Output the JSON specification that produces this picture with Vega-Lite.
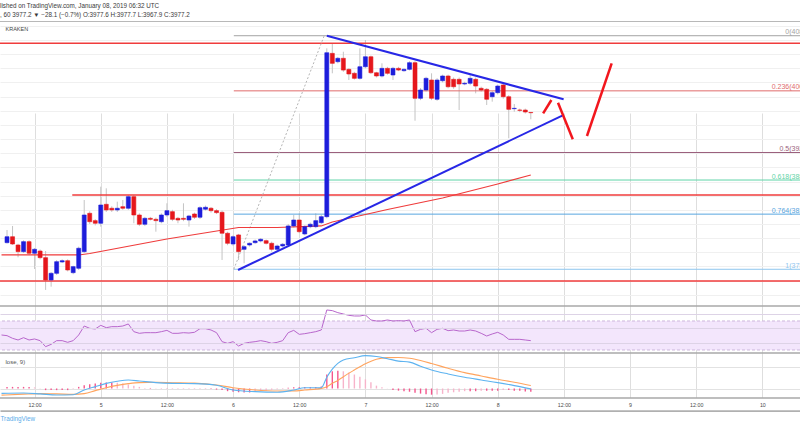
{
"$schema":"https://vega.github.io/schema/vega-lite/v6.json",
"width":800,"height":377,
"autosize":{"type":"none"},
"padding":{"left":0,"right":0,"top":21,"bottom":32},
"background":"white",
"config":{"view":{"stroke":null},"font":"Liberation Sans"},
"title":{"text":"lished on TradingView.com, January 08, 2019 06:32 UTC","subtitle":", 60  3977.2 ▼ −28.1 (−0.7%)  O:3977.6  H:3977.7  L:3967.9  C:3977.2","anchor":"start","frame":"group","fontSize":6.3,"subtitleFontSize":6.3,"fontWeight":"normal","color":"#3a3a3a","subtitleColor":"#3a3a3a","offset":2.5,"subtitlePadding":3,"font":"Liberation Sans","subtitleFont":"Liberation Sans"},
"resolve":{"scale":{"y":"independent","color":"independent"}},
"datasets":{
"candles":[
{"t":"2019-01-04T07:00:00Z","o":3793.6,"h":3811.5,"l":3792.4,"c":3802.0},
{"t":"2019-01-04T08:00:00Z","o":3802.0,"h":3817.2,"l":3790.3,"c":3791.7},
{"t":"2019-01-04T09:00:00Z","o":3790.3,"h":3792.0,"l":3772.9,"c":3780.9},
{"t":"2019-01-04T10:00:00Z","o":3780.9,"h":3797.0,"l":3779.0,"c":3795.0},
{"t":"2019-01-04T11:00:00Z","o":3795.0,"h":3797.0,"l":3776.0,"c":3778.6},
{"t":"2019-01-04T12:00:00Z","o":3778.6,"h":3786.0,"l":3756.4,"c":3784.2},
{"t":"2019-01-04T13:00:00Z","o":3781.8,"h":3784.0,"l":3770.0,"c":3772.4},
{"t":"2019-01-04T14:00:00Z","o":3772.4,"h":3781.8,"l":3726.8,"c":3740.9},
{"t":"2019-01-04T15:00:00Z","o":3740.9,"h":3752.0,"l":3731.4,"c":3750.3},
{"t":"2019-01-04T16:00:00Z","o":3750.3,"h":3769.0,"l":3748.0,"c":3766.7},
{"t":"2019-01-04T17:00:00Z","o":3766.3,"h":3770.0,"l":3765.0,"c":3768.1},
{"t":"2019-01-04T18:00:00Z","o":3768.1,"h":3770.0,"l":3753.0,"c":3755.0},
{"t":"2019-01-04T19:00:00Z","o":3751.2,"h":3761.0,"l":3749.0,"c":3759.7},
{"t":"2019-01-04T20:00:00Z","o":3757.4,"h":3788.0,"l":3755.0,"c":3785.7},
{"t":"2019-01-04T21:00:00Z","o":3780.9,"h":3853.9,"l":3779.0,"c":3832.7},
{"t":"2019-01-04T22:00:00Z","o":3835.1,"h":3838.0,"l":3820.0,"c":3823.2},
{"t":"2019-01-04T23:00:00Z","o":3824.7,"h":3827.0,"l":3818.0,"c":3821.0},
{"t":"2019-01-05T00:00:00Z","o":3821.0,"h":3872.7,"l":3816.2,"c":3846.8},
{"t":"2019-01-05T01:00:00Z","o":3847.8,"h":3870.4,"l":3837.0,"c":3839.8},
{"t":"2019-01-05T02:00:00Z","o":3842.2,"h":3845.0,"l":3837.0,"c":3839.8},
{"t":"2019-01-05T03:00:00Z","o":3839.8,"h":3851.5,"l":3837.0,"c":3842.2},
{"t":"2019-01-05T04:00:00Z","o":3844.4,"h":3853.9,"l":3840.0,"c":3842.2},
{"t":"2019-01-05T05:00:00Z","o":3842.2,"h":3861.0,"l":3840.0,"c":3858.6},
{"t":"2019-01-05T06:00:00Z","o":3858.6,"h":3861.0,"l":3821.0,"c":3832.7},
{"t":"2019-01-05T07:00:00Z","o":3832.7,"h":3835.0,"l":3817.0,"c":3819.6},
{"t":"2019-01-05T08:00:00Z","o":3819.6,"h":3830.0,"l":3817.0,"c":3828.0},
{"t":"2019-01-05T09:00:00Z","o":3828.0,"h":3830.0,"l":3825.0,"c":3826.6},
{"t":"2019-01-05T10:00:00Z","o":3826.6,"h":3829.0,"l":3809.1,"c":3824.7},
{"t":"2019-01-05T11:00:00Z","o":3823.2,"h":3835.0,"l":3821.0,"c":3832.7},
{"t":"2019-01-05T12:00:00Z","o":3832.7,"h":3849.2,"l":3830.0,"c":3838.8},
{"t":"2019-01-05T13:00:00Z","o":3837.4,"h":3840.0,"l":3824.0,"c":3826.6},
{"t":"2019-01-05T14:00:00Z","o":3828.0,"h":3830.0,"l":3821.0,"c":3825.6},
{"t":"2019-01-05T15:00:00Z","o":3828.0,"h":3849.2,"l":3824.0,"c":3826.6},
{"t":"2019-01-05T16:00:00Z","o":3825.6,"h":3833.0,"l":3816.2,"c":3831.3},
{"t":"2019-01-05T17:00:00Z","o":3834.1,"h":3836.0,"l":3827.0,"c":3829.5},
{"t":"2019-01-05T18:00:00Z","o":3829.5,"h":3845.0,"l":3827.0,"c":3843.0},
{"t":"2019-01-05T19:00:00Z","o":3840.8,"h":3846.0,"l":3839.0,"c":3843.6},
{"t":"2019-01-05T20:00:00Z","o":3842.2,"h":3844.0,"l":3836.0,"c":3838.8},
{"t":"2019-01-05T21:00:00Z","o":3838.8,"h":3841.0,"l":3834.0,"c":3836.0},
{"t":"2019-01-05T22:00:00Z","o":3836.5,"h":3839.0,"l":3769.1,"c":3806.9},
{"t":"2019-01-05T23:00:00Z","o":3806.9,"h":3809.0,"l":3790.0,"c":3792.7},
{"t":"2019-01-06T00:00:00Z","o":3791.7,"h":3804.0,"l":3789.0,"c":3802.0},
{"t":"2019-01-06T01:00:00Z","o":3804.5,"h":3806.0,"l":3769.1,"c":3780.9},
{"t":"2019-01-06T02:00:00Z","o":3784.2,"h":3790.0,"l":3764.5,"c":3787.9},
{"t":"2019-01-06T03:00:00Z","o":3790.3,"h":3794.0,"l":3788.0,"c":3792.7},
{"t":"2019-01-06T04:00:00Z","o":3793.6,"h":3798.0,"l":3792.0,"c":3796.0},
{"t":"2019-01-06T05:00:00Z","o":3796.0,"h":3800.0,"l":3794.0,"c":3798.4},
{"t":"2019-01-06T06:00:00Z","o":3796.4,"h":3798.0,"l":3791.0,"c":3792.7},
{"t":"2019-01-06T07:00:00Z","o":3792.7,"h":3795.0,"l":3780.9,"c":3784.2},
{"t":"2019-01-06T08:00:00Z","o":3784.2,"h":3791.0,"l":3782.0,"c":3788.9},
{"t":"2019-01-06T09:00:00Z","o":3788.9,"h":3793.0,"l":3787.0,"c":3791.3},
{"t":"2019-01-06T10:00:00Z","o":3790.3,"h":3820.0,"l":3788.0,"c":3817.2},
{"t":"2019-01-06T11:00:00Z","o":3817.2,"h":3832.7,"l":3815.0,"c":3825.6},
{"t":"2019-01-06T12:00:00Z","o":3825.6,"h":3835.1,"l":3807.0,"c":3809.1},
{"t":"2019-01-06T13:00:00Z","o":3805.9,"h":3818.0,"l":3804.0,"c":3816.2},
{"t":"2019-01-06T14:00:00Z","o":3816.2,"h":3822.0,"l":3814.0,"c":3819.6},
{"t":"2019-01-06T15:00:00Z","o":3816.2,"h":3835.1,"l":3814.0,"c":3824.7},
{"t":"2019-01-06T16:00:00Z","o":3821.8,"h":3833.0,"l":3820.0,"c":3830.3},
{"t":"2019-01-06T17:00:00Z","o":3830.3,"h":4068.2,"l":3828.0,"c":4062.0},
{"t":"2019-01-06T18:00:00Z","o":4061.1,"h":4075.3,"l":4032.9,"c":4047.0},
{"t":"2019-01-06T19:00:00Z","o":4049.3,"h":4056.0,"l":4047.0,"c":4054.1},
{"t":"2019-01-06T20:00:00Z","o":4054.1,"h":4063.4,"l":4035.0,"c":4037.5},
{"t":"2019-01-06T21:00:00Z","o":4038.5,"h":4040.0,"l":4023.4,"c":4031.9},
{"t":"2019-01-06T22:00:00Z","o":4032.9,"h":4035.0,"l":4024.0,"c":4025.8},
{"t":"2019-01-06T23:00:00Z","o":4025.8,"h":4068.2,"l":4024.0,"c":4042.2},
{"t":"2019-01-07T00:00:00Z","o":4042.2,"h":4079.9,"l":4040.0,"c":4056.3},
{"t":"2019-01-07T01:00:00Z","o":4056.3,"h":4058.0,"l":4032.0,"c":4033.7},
{"t":"2019-01-07T02:00:00Z","o":4033.7,"h":4035.0,"l":4027.0,"c":4029.1},
{"t":"2019-01-07T03:00:00Z","o":4029.1,"h":4047.0,"l":4027.0,"c":4039.9},
{"t":"2019-01-07T04:00:00Z","o":4039.9,"h":4042.0,"l":4031.0,"c":4032.9},
{"t":"2019-01-07T05:00:00Z","o":4030.5,"h":4042.0,"l":4023.4,"c":4039.9},
{"t":"2019-01-07T06:00:00Z","o":4039.9,"h":4042.0,"l":4036.0,"c":4037.5},
{"t":"2019-01-07T07:00:00Z","o":4036.6,"h":4040.0,"l":4035.0,"c":4038.5},
{"t":"2019-01-07T08:00:00Z","o":4038.5,"h":4050.0,"l":4037.0,"c":4047.9},
{"t":"2019-01-07T09:00:00Z","o":4047.9,"h":4050.0,"l":3965.9,"c":3997.6},
{"t":"2019-01-07T10:00:00Z","o":3997.6,"h":4012.1,"l":3995.0,"c":4009.3},
{"t":"2019-01-07T11:00:00Z","o":4009.3,"h":4028.0,"l":4007.0,"c":4025.8},
{"t":"2019-01-07T12:00:00Z","o":4023.4,"h":4032.9,"l":3995.0,"c":3997.6},
{"t":"2019-01-07T13:00:00Z","o":3996.2,"h":4026.0,"l":3994.0,"c":4023.4},
{"t":"2019-01-07T14:00:00Z","o":4022.4,"h":4031.0,"l":4020.0,"c":4029.1},
{"t":"2019-01-07T15:00:00Z","o":4029.1,"h":4031.0,"l":4011.7,"c":4013.9},
{"t":"2019-01-07T16:00:00Z","o":4024.4,"h":4027.0,"l":4011.0,"c":4013.9},
{"t":"2019-01-07T17:00:00Z","o":4024.4,"h":4027.0,"l":3981.0,"c":4017.8},
{"t":"2019-01-07T18:00:00Z","o":4017.8,"h":4021.0,"l":4016.0,"c":4018.8},
{"t":"2019-01-07T19:00:00Z","o":4018.8,"h":4030.5,"l":4016.0,"c":4025.8},
{"t":"2019-01-07T20:00:00Z","o":4024.4,"h":4027.0,"l":4004.6,"c":4014.9},
{"t":"2019-01-07T21:00:00Z","o":4011.7,"h":4014.0,"l":4007.0,"c":4009.3},
{"t":"2019-01-07T22:00:00Z","o":4010.3,"h":4012.0,"l":3988.1,"c":3996.2},
{"t":"2019-01-07T23:00:00Z","o":3999.8,"h":4008.0,"l":3992.8,"c":4005.5},
{"t":"2019-01-08T00:00:00Z","o":4005.5,"h":4017.0,"l":4003.0,"c":4014.9},
{"t":"2019-01-08T01:00:00Z","o":4016.4,"h":4018.0,"l":3997.0,"c":3999.8},
{"t":"2019-01-08T02:00:00Z","o":3999.8,"h":4002.0,"l":3941.1,"c":3982.0},
{"t":"2019-01-08T03:00:00Z","o":3982.9,"h":3989.5,"l":3978.6,"c":3983.4},
{"t":"2019-01-08T04:00:00Z","o":3981.0,"h":3983.0,"l":3978.0,"c":3980.6},
{"t":"2019-01-08T05:00:00Z","o":3981.0,"h":3983.0,"l":3976.0,"c":3978.2},
{"t":"2019-01-08T06:00:00Z","o":3977.6,"h":3977.7,"l":3967.9,"c":3977.2}
],
"ma":[
{"t":"2019-01-04T06:00:00Z","v":3776.2},{"t":"2019-01-04T07:00:00Z","v":3776.2},{"t":"2019-01-04T20:00:00Z","v":3776.2},{"t":"2019-01-04T22:00:00Z","v":3778.3},{"t":"2019-01-05T12:00:00Z","v":3798.8},{"t":"2019-01-06T01:00:00Z","v":3815.0},{"t":"2019-01-06T08:00:00Z","v":3815.0},{"t":"2019-01-06T16:00:00Z","v":3817.2},{"t":"2019-01-06T18:00:00Z","v":3822.8},{"t":"2019-01-07T04:00:00Z","v":3840.5},{"t":"2019-01-07T14:00:00Z","v":3856.7},{"t":"2019-01-08T00:00:00Z","v":3876.5},{"t":"2019-01-08T06:00:00Z","v":3889.2}
],
"levels":[
{"p":4075.3,"t":"2019-01-04T00:00:00Z","t2":"2019-01-11T00:00:00Z"},
{"p":3861.0,"t":"2019-01-04T18:50:00Z","t2":"2019-01-11T00:00:00Z"},
{"p":3739.5,"t":"2019-01-04T00:00:00Z","t2":"2019-01-11T00:00:00Z"}
],
"fib":[
{"lv":"0","p":4086.0,"lab":"0(4086.0)","t":"2019-01-06T00:08:00Z","t2":"2019-01-11T00:00:00Z","tl":"2019-01-10T09:36:00Z"},
{"lv":"0.236","p":4008.1,"lab":"0.236(4008.1)","t":"2019-01-06T00:08:00Z","t2":"2019-01-11T00:00:00Z","tl":"2019-01-10T09:36:00Z"},
{"lv":"0.5","p":3921.0,"lab":"0.5(3921.0)","t":"2019-01-06T00:08:00Z","t2":"2019-01-11T00:00:00Z","tl":"2019-01-10T09:36:00Z"},
{"lv":"0.618","p":3882.1,"lab":"0.618(3882.1)","t":"2019-01-06T00:08:00Z","t2":"2019-01-11T00:00:00Z","tl":"2019-01-10T09:36:00Z"},
{"lv":"0.764","p":3833.9,"lab":"0.764(3833.9)","t":"2019-01-06T00:08:00Z","t2":"2019-01-11T00:00:00Z","tl":"2019-01-10T09:36:00Z"},
{"lv":"1","p":3756.0,"lab":"1(3756.0)","t":"2019-01-06T00:08:00Z","t2":"2019-01-11T00:00:00Z","tl":"2019-01-10T09:36:00Z"}
],
"anchor":[{"t":"2019-01-06T00:08:00Z","p":3756.0,"t2":"2019-01-06T16:32:00Z","p2":4086.0}],
"trend":[
{"t":"2019-01-06T17:00:00Z","p":4086.0,"t2":"2019-01-08T11:57:00Z","p2":3996.2},
{"t":"2019-01-06T00:54:00Z","p":3755.0,"t2":"2019-01-08T11:42:00Z","p2":3973.0}
],
"proj":[
{"t":"2019-01-08T08:14:00Z","p":3976.4,"t2":"2019-01-08T09:44:00Z","p2":3995.2},
{"t":"2019-01-08T10:56:00Z","p":3991.3,"t2":"2019-01-08T13:37:00Z","p2":3939.6},
{"t":"2019-01-08T16:11:00Z","p":3944.3,"t2":"2019-01-08T20:40:00Z","p2":4047.0}
],
"rsi":[
{"t":"2019-01-04T06:00:00Z","v":50.7},{"t":"2019-01-04T07:00:00Z","v":49.8},{"t":"2019-01-04T08:00:00Z","v":46.1},{"t":"2019-01-04T09:00:00Z","v":43.8},{"t":"2019-01-04T10:00:00Z","v":47.0},{"t":"2019-01-04T11:00:00Z","v":43.8},{"t":"2019-01-04T12:00:00Z","v":45.2},{"t":"2019-01-04T13:00:00Z","v":42.9},{"t":"2019-01-04T14:00:00Z","v":34.6},{"t":"2019-01-04T15:00:00Z","v":37.8},{"t":"2019-01-04T16:00:00Z","v":42.9},{"t":"2019-01-04T17:00:00Z","v":42.9},{"t":"2019-01-04T18:00:00Z","v":40.6},{"t":"2019-01-04T19:00:00Z","v":42.9},{"t":"2019-01-04T20:00:00Z","v":50.7},{"t":"2019-01-04T21:00:00Z","v":63.1},{"t":"2019-01-04T22:00:00Z","v":59.9},{"t":"2019-01-04T23:00:00Z","v":59.0},
{"t":"2019-01-05T00:00:00Z","v":64.0},{"t":"2019-01-05T01:00:00Z","v":60.8},{"t":"2019-01-05T02:00:00Z","v":62.2},{"t":"2019-01-05T03:00:00Z","v":62.2},{"t":"2019-01-05T04:00:00Z","v":63.1},{"t":"2019-01-05T05:00:00Z","v":65.9},{"t":"2019-01-05T06:00:00Z","v":55.3},{"t":"2019-01-05T07:00:00Z","v":53.0},{"t":"2019-01-05T08:00:00Z","v":53.9},{"t":"2019-01-05T09:00:00Z","v":53.9},{"t":"2019-01-05T10:00:00Z","v":53.9},{"t":"2019-01-05T11:00:00Z","v":55.3},{"t":"2019-01-05T12:00:00Z","v":57.1},{"t":"2019-01-05T13:00:00Z","v":53.0},{"t":"2019-01-05T14:00:00Z","v":53.0},{"t":"2019-01-05T15:00:00Z","v":53.9},{"t":"2019-01-05T16:00:00Z","v":53.4},{"t":"2019-01-05T17:00:00Z","v":54.4},{"t":"2019-01-05T18:00:00Z","v":59.4},{"t":"2019-01-05T19:00:00Z","v":59.4},{"t":"2019-01-05T20:00:00Z","v":57.6},{"t":"2019-01-05T21:00:00Z","v":53.9},{"t":"2019-01-05T22:00:00Z","v":41.5},{"t":"2019-01-05T23:00:00Z","v":39.2},
{"t":"2019-01-06T00:00:00Z","v":41.5},{"t":"2019-01-06T01:00:00Z","v":35.5},{"t":"2019-01-06T02:00:00Z","v":39.2},{"t":"2019-01-06T03:00:00Z","v":40.6},{"t":"2019-01-06T04:00:00Z","v":41.5},{"t":"2019-01-06T05:00:00Z","v":42.9},{"t":"2019-01-06T06:00:00Z","v":41.5},{"t":"2019-01-06T07:00:00Z","v":39.2},{"t":"2019-01-06T08:00:00Z","v":40.6},{"t":"2019-01-06T09:00:00Z","v":42.9},{"t":"2019-01-06T10:00:00Z","v":53.9},{"t":"2019-01-06T11:00:00Z","v":57.1},{"t":"2019-01-06T12:00:00Z","v":51.6},{"t":"2019-01-06T13:00:00Z","v":52.5},{"t":"2019-01-06T14:00:00Z","v":53.9},{"t":"2019-01-06T15:00:00Z","v":55.3},{"t":"2019-01-06T16:00:00Z","v":57.6},{"t":"2019-01-06T17:00:00Z","v":85.2},{"t":"2019-01-06T18:00:00Z","v":84.3},{"t":"2019-01-06T19:00:00Z","v":81.5},{"t":"2019-01-06T20:00:00Z","v":79.7},{"t":"2019-01-06T21:00:00Z","v":77.8},{"t":"2019-01-06T22:00:00Z","v":76.9},{"t":"2019-01-06T23:00:00Z","v":76.9},
{"t":"2019-01-07T00:00:00Z","v":78.3},{"t":"2019-01-07T01:00:00Z","v":71.4},{"t":"2019-01-07T02:00:00Z","v":70.0},{"t":"2019-01-07T03:00:00Z","v":70.0},{"t":"2019-01-07T04:00:00Z","v":71.4},{"t":"2019-01-07T05:00:00Z","v":70.0},{"t":"2019-01-07T06:00:00Z","v":70.5},{"t":"2019-01-07T07:00:00Z","v":70.0},{"t":"2019-01-07T08:00:00Z","v":71.4},{"t":"2019-01-07T09:00:00Z","v":55.3},{"t":"2019-01-07T10:00:00Z","v":58.5},{"t":"2019-01-07T11:00:00Z","v":59.9},{"t":"2019-01-07T12:00:00Z","v":53.9},{"t":"2019-01-07T13:00:00Z","v":58.5},{"t":"2019-01-07T14:00:00Z","v":59.9},{"t":"2019-01-07T15:00:00Z","v":56.7},{"t":"2019-01-07T16:00:00Z","v":57.6},{"t":"2019-01-07T17:00:00Z","v":56.2},{"t":"2019-01-07T18:00:00Z","v":56.2},{"t":"2019-01-07T19:00:00Z","v":57.6},{"t":"2019-01-07T20:00:00Z","v":56.2},{"t":"2019-01-07T21:00:00Z","v":53.0},{"t":"2019-01-07T22:00:00Z","v":49.3},{"t":"2019-01-07T23:00:00Z","v":52.1},
{"t":"2019-01-08T00:00:00Z","v":54.4},{"t":"2019-01-08T01:00:00Z","v":50.7},{"t":"2019-01-08T02:00:00Z","v":44.7},{"t":"2019-01-08T03:00:00Z","v":44.7},{"t":"2019-01-08T04:00:00Z","v":44.7},{"t":"2019-01-08T05:00:00Z","v":43.8},{"t":"2019-01-08T06:00:00Z","v":42.9}
],
"macd":[
{"t":"2019-01-04T06:00:00Z","m":-9.0,"s":-12.3},{"t":"2019-01-04T10:00:00Z","m":-8.5,"s":-10.5},{"t":"2019-01-04T13:00:00Z","m":-10.0,"s":-9.5},{"t":"2019-01-04T16:00:00Z","m":-12.1,"s":-10.0},{"t":"2019-01-04T19:00:00Z","m":-11.5,"s":-10.9},{"t":"2019-01-04T21:00:00Z","m":-2.8,"s":-9.5},{"t":"2019-01-04T23:00:00Z","m":3.5,"s":-4.0},{"t":"2019-01-05T01:00:00Z","m":9.5,"s":1.5},{"t":"2019-01-05T03:00:00Z","m":13.5,"s":5.8},{"t":"2019-01-05T05:00:00Z","m":15.8,"s":9.0},{"t":"2019-01-05T07:00:00Z","m":14.0,"s":11.0},{"t":"2019-01-05T10:00:00Z","m":11.0,"s":11.5},{"t":"2019-01-05T13:00:00Z","m":9.6,"s":10.8},{"t":"2019-01-05T17:00:00Z","m":9.0,"s":10.0},{"t":"2019-01-05T21:00:00Z","m":6.0,"s":6.5},{"t":"2019-01-06T00:00:00Z","m":-2.8,"s":1.5},{"t":"2019-01-06T04:00:00Z","m":-5.9,"s":-2.8},{"t":"2019-01-06T08:00:00Z","m":-7.1,"s":-4.7},{"t":"2019-01-06T11:00:00Z","m":-2.8,"s":-4.5},{"t":"2019-01-06T13:00:00Z","m":1.5,"s":-2.8},{"t":"2019-01-06T16:00:00Z","m":1.5,"s":0.3},{"t":"2019-01-06T17:00:00Z","m":21.0,"s":3.4},{"t":"2019-01-06T18:00:00Z","m":36.0,"s":9.6},{"t":"2019-01-06T19:00:00Z","m":46.8,"s":15.0},{"t":"2019-01-06T20:00:00Z","m":53.0,"s":22.0},{"t":"2019-01-06T22:00:00Z","m":57.3,"s":34.4},{"t":"2019-01-07T00:00:00Z","m":61.1,"s":46.0},{"t":"2019-01-07T02:00:00Z","m":59.5,"s":54.5},{"t":"2019-01-07T04:00:00Z","m":55.5,"s":57.5},{"t":"2019-01-07T06:00:00Z","m":51.0,"s":57.8},{"t":"2019-01-07T08:00:00Z","m":49.0,"s":56.2},{"t":"2019-01-07T10:00:00Z","m":41.5,"s":52.0},{"t":"2019-01-07T12:00:00Z","m":34.5,"s":46.5},{"t":"2019-01-07T15:00:00Z","m":27.1,"s":37.6},{"t":"2019-01-07T18:00:00Z","m":20.9,"s":29.5},{"t":"2019-01-07T21:00:00Z","m":15.9,"s":23.3},{"t":"2019-01-08T00:00:00Z","m":11.0,"s":17.1},{"t":"2019-01-08T03:00:00Z","m":5.4,"s":11.6},{"t":"2019-01-08T06:00:00Z","m":-0.8,"s":5.4}
],
"hist":[
{"t":"2019-01-04T07:00:00Z","v":3,"d":"g"},{"t":"2019-01-04T08:00:00Z","v":3,"d":"g"},{"t":"2019-01-04T09:00:00Z","v":3,"d":"g"},{"t":"2019-01-04T10:00:00Z","v":3,"d":"g"},{"t":"2019-01-04T11:00:00Z","v":3,"d":"g"},{"t":"2019-01-04T12:00:00Z","v":2,"d":"f"},{"t":"2019-01-04T13:00:00Z","v":0.5,"d":"f"},{"t":"2019-01-04T14:00:00Z","v":-3,"d":"g"},{"t":"2019-01-04T15:00:00Z","v":-3,"d":"g"},{"t":"2019-01-04T16:00:00Z","v":-3,"d":"g"},{"t":"2019-01-04T17:00:00Z","v":-3,"d":"g"},{"t":"2019-01-04T18:00:00Z","v":-3,"d":"g"},{"t":"2019-01-04T19:00:00Z","v":-1,"d":"f"},{"t":"2019-01-04T20:00:00Z","v":3,"d":"g"},{"t":"2019-01-04T21:00:00Z","v":6,"d":"g"},{"t":"2019-01-04T22:00:00Z","v":8,"d":"g"},{"t":"2019-01-04T23:00:00Z","v":9.3,"d":"g"},
{"t":"2019-01-05T00:00:00Z","v":10.5,"d":"g"},{"t":"2019-01-05T01:00:00Z","v":11,"d":"g"},{"t":"2019-01-05T02:00:00Z","v":11,"d":"g"},{"t":"2019-01-05T03:00:00Z","v":10.5,"d":"f"},{"t":"2019-01-05T04:00:00Z","v":9.3,"d":"f"},{"t":"2019-01-05T05:00:00Z","v":7.4,"d":"f"},{"t":"2019-01-05T06:00:00Z","v":5,"d":"f"},{"t":"2019-01-05T07:00:00Z","v":3,"d":"f"},{"t":"2019-01-05T08:00:00Z","v":1,"d":"f"},{"t":"2019-01-05T09:00:00Z","v":1,"d":"g"},{"t":"2019-01-05T10:00:00Z","v":0.5,"d":"f"},{"t":"2019-01-05T11:00:00Z","v":0.5,"d":"g"},{"t":"2019-01-05T12:00:00Z","v":0.5,"d":"g"},{"t":"2019-01-05T13:00:00Z","v":-0.5,"d":"g"},{"t":"2019-01-05T14:00:00Z","v":-0.5,"d":"g"},{"t":"2019-01-05T15:00:00Z","v":0.5,"d":"g"},{"t":"2019-01-05T16:00:00Z","v":-0.5,"d":"g"},{"t":"2019-01-05T17:00:00Z","v":-0.5,"d":"g"},{"t":"2019-01-05T18:00:00Z","v":0.5,"d":"g"},{"t":"2019-01-05T19:00:00Z","v":0.5,"d":"g"},{"t":"2019-01-05T20:00:00Z","v":-1,"d":"g"},{"t":"2019-01-05T21:00:00Z","v":-2,"d":"g"},{"t":"2019-01-05T22:00:00Z","v":-3,"d":"g"},{"t":"2019-01-05T23:00:00Z","v":-5,"d":"g"},
{"t":"2019-01-06T00:00:00Z","v":-6.2,"d":"g"},{"t":"2019-01-06T01:00:00Z","v":-7,"d":"g"},{"t":"2019-01-06T02:00:00Z","v":-7.4,"d":"g"},{"t":"2019-01-06T03:00:00Z","v":-7.4,"d":"g"},{"t":"2019-01-06T04:00:00Z","v":-6.2,"d":"f"},{"t":"2019-01-06T05:00:00Z","v":-5,"d":"f"},{"t":"2019-01-06T06:00:00Z","v":-3.5,"d":"f"},{"t":"2019-01-06T07:00:00Z","v":-2.5,"d":"f"},{"t":"2019-01-06T08:00:00Z","v":-1.2,"d":"f"},{"t":"2019-01-06T09:00:00Z","v":0.5,"d":"g"},{"t":"2019-01-06T10:00:00Z","v":1.2,"d":"g"},{"t":"2019-01-06T11:00:00Z","v":2.5,"d":"g"},{"t":"2019-01-06T12:00:00Z","v":2.5,"d":"g"},{"t":"2019-01-06T13:00:00Z","v":3,"d":"g"},{"t":"2019-01-06T14:00:00Z","v":3,"d":"g"},{"t":"2019-01-06T15:00:00Z","v":3,"d":"g"},{"t":"2019-01-06T16:00:00Z","v":3.5,"d":"g"},{"t":"2019-01-06T17:00:00Z","v":26,"d":"g"},{"t":"2019-01-06T18:00:00Z","v":32,"d":"g"},{"t":"2019-01-06T19:00:00Z","v":33,"d":"g"},{"t":"2019-01-06T20:00:00Z","v":32,"d":"f"},{"t":"2019-01-06T21:00:00Z","v":30,"d":"f"},{"t":"2019-01-06T22:00:00Z","v":26,"d":"f"},{"t":"2019-01-06T23:00:00Z","v":22,"d":"f"},
{"t":"2019-01-07T00:00:00Z","v":17,"d":"f"},{"t":"2019-01-07T01:00:00Z","v":11.5,"d":"f"},{"t":"2019-01-07T02:00:00Z","v":5.3,"d":"f"},{"t":"2019-01-07T03:00:00Z","v":2.2,"d":"f"},{"t":"2019-01-07T04:00:00Z","v":0.3,"d":"f"},{"t":"2019-01-07T05:00:00Z","v":-2.8,"d":"g"},{"t":"2019-01-07T06:00:00Z","v":-4,"d":"g"},{"t":"2019-01-07T07:00:00Z","v":-5,"d":"g"},{"t":"2019-01-07T08:00:00Z","v":-6,"d":"g"},{"t":"2019-01-07T09:00:00Z","v":-8,"d":"g"},{"t":"2019-01-07T10:00:00Z","v":-9.5,"d":"g"},{"t":"2019-01-07T11:00:00Z","v":-10.5,"d":"g"},{"t":"2019-01-07T12:00:00Z","v":-11.5,"d":"g"},{"t":"2019-01-07T13:00:00Z","v":-11,"d":"f"},{"t":"2019-01-07T14:00:00Z","v":-10,"d":"f"},{"t":"2019-01-07T15:00:00Z","v":-8,"d":"f"},{"t":"2019-01-07T16:00:00Z","v":-7,"d":"f"},{"t":"2019-01-07T17:00:00Z","v":-6,"d":"f"},{"t":"2019-01-07T18:00:00Z","v":-5,"d":"f"},{"t":"2019-01-07T19:00:00Z","v":-5,"d":"g"},{"t":"2019-01-07T20:00:00Z","v":-5,"d":"g"},{"t":"2019-01-07T21:00:00Z","v":-4,"d":"f"},{"t":"2019-01-07T22:00:00Z","v":-4,"d":"g"},{"t":"2019-01-07T23:00:00Z","v":-4,"d":"g"},
{"t":"2019-01-08T00:00:00Z","v":-4,"d":"g"},{"t":"2019-01-08T01:00:00Z","v":-3,"d":"f"},{"t":"2019-01-08T02:00:00Z","v":-3,"d":"g"},{"t":"2019-01-08T03:00:00Z","v":-4,"d":"g"},{"t":"2019-01-08T04:00:00Z","v":-4,"d":"g"},{"t":"2019-01-08T05:00:00Z","v":-5.5,"d":"g"},{"t":"2019-01-08T06:00:00Z","v":-6,"d":"g"}
]
},
"layer":[
{"data":{"name":"candles"},"mark":{"type":"rule","color":"#c4c4c4","strokeWidth":1},
 "encoding":{"x":{"field":"t","type":"temporal","title":"TradingView","scale":{"type":"utc","domain":[{"year":2019,"month":1,"date":4,"hours":6,"minutes":38,"utc":true},{"year":2019,"month":1,"date":10,"hours":5,"minutes":55,"utc":true}]},
   "axis":{"grid":true,"gridColor":"#dedede","gridWidth":1,"ticks":false,"domain":true,"domainColor":"#b0b0b0","domainWidth":1.8,"offset":12.7,"labelPadding":-8.5,"labelFontSize":5.3,"labelColor":"#4a4a4a","labelExpr":"utchours(datum.value) == 0 ? utcFormat(datum.value, '%-d') : utcFormat(datum.value, '%H:%M')",
     "values":[{"year":2019,"month":1,"date":4,"hours":12,"utc":true},{"year":2019,"month":1,"date":5,"hours":0,"utc":true},{"year":2019,"month":1,"date":5,"hours":12,"utc":true},{"year":2019,"month":1,"date":6,"hours":0,"utc":true},{"year":2019,"month":1,"date":6,"hours":12,"utc":true},{"year":2019,"month":1,"date":7,"hours":0,"utc":true},{"year":2019,"month":1,"date":7,"hours":12,"utc":true},{"year":2019,"month":1,"date":8,"hours":0,"utc":true},{"year":2019,"month":1,"date":8,"hours":12,"utc":true},{"year":2019,"month":1,"date":9,"hours":0,"utc":true},{"year":2019,"month":1,"date":9,"hours":12,"utc":true},{"year":2019,"month":1,"date":10,"hours":0,"utc":true}],
     "labelFlush":false,"labelOverlap":false,"titleAnchor":"start","titleAlign":"left","titleColor":"#5badea","titleFontSize":6.3,"titleFontWeight":"normal","titlePadding":5}},
  "y":{"field":"l","type":"quantitative","scale":{"domain":[3704.1,4106.1],"range":[285,0.5],"nice":false,"zero":false},"axis":{"grid":true,"values":[3720,3740,3760,3780,3800,3820,3840,3860,3880,3900,3920,3940,3960,3980,4000,4020,4040,4060,4080,4100],"gridColor":"#f0f0f0","labels":false,"ticks":false,"domain":false,"title":null}},"y2":{"field":"h"}}},
{"data":{"values":[{"lo":30,"hi":70}]},"mark":{"type":"rect","color":"#f3e6fc"},
 "encoding":{"y":{"field":"lo","type":"quantitative","scale":{"domain":[25.86,89.31],"range":[332,286],"nice":false,"zero":false},"axis":{"grid":true,"values":[40,60,80],"gridColor":"#ddd3e6","labels":false,"ticks":false,"domain":false,"title":null,"zindex":1}},"y2":{"field":"hi"}}},
{"data":{"values":[{"v":70},{"v":30}]},"mark":{"type":"rule","color":"#cdb8dd","strokeDash":[3,2],"strokeWidth":1},
 "encoding":{"y":{"field":"v","type":"quantitative","scale":{"domain":[25.86,89.31],"range":[332,286],"nice":false,"zero":false},"axis":null}}},
{"data":{"name":"fib"},"mark":{"type":"rule","strokeWidth":1,"clip":true},
 "encoding":{"x":{"field":"t","type":"temporal","title":"TradingView","scale":{"type":"utc","domain":[{"year":2019,"month":1,"date":4,"hours":6,"minutes":38,"utc":true},{"year":2019,"month":1,"date":10,"hours":5,"minutes":55,"utc":true}]}},"x2":{"field":"t2"},
  "y":{"field":"p","type":"quantitative","scale":{"domain":[3704.1,4106.1],"range":[285,0.5],"nice":false,"zero":false},"axis":null},
  "color":{"field":"lv","type":"nominal","scale":{"domain":["0","0.236","0.5","0.618","0.764","1"],"range":["#a3a3a3","#e06c6c","#9a5f7c","#5fd4a8","#58a6e0","#8ec6ef"]},"legend":null}}},
{"data":{"name":"fib"},"mark":{"type":"text","align":"right","baseline":"bottom","dy":-0.5,"fontSize":7,"clip":true},
 "encoding":{"x":{"field":"tl","type":"temporal","title":"TradingView","scale":{"type":"utc","domain":[{"year":2019,"month":1,"date":4,"hours":6,"minutes":38,"utc":true},{"year":2019,"month":1,"date":10,"hours":5,"minutes":55,"utc":true}]}},
  "y":{"field":"p","type":"quantitative","scale":{"domain":[3704.1,4106.1],"range":[285,0.5],"nice":false,"zero":false},"axis":null},
  "text":{"field":"lab"},
  "color":{"field":"lv","type":"nominal","scale":{"domain":["0","0.236","0.5","0.618","0.764","1"],"range":["#a3a3a3","#e06c6c","#9a5f7c","#5fd4a8","#58a6e0","#8ec6ef"]},"legend":null}}},
{"data":{"name":"levels"},"mark":{"type":"rule","color":"#f03c3c","strokeWidth":1.5,"clip":true},
 "encoding":{"x":{"field":"t","type":"temporal","title":"TradingView","scale":{"type":"utc","domain":[{"year":2019,"month":1,"date":4,"hours":6,"minutes":38,"utc":true},{"year":2019,"month":1,"date":10,"hours":5,"minutes":55,"utc":true}]}},"x2":{"field":"t2"},
  "y":{"field":"p","type":"quantitative","scale":{"domain":[3704.1,4106.1],"range":[285,0.5],"nice":false,"zero":false},"axis":null}}},
{"data":{"name":"anchor"},"mark":{"type":"rule","color":"#b5b5b5","strokeWidth":1,"strokeDash":[2,2]},
 "encoding":{"x":{"field":"t","type":"temporal","title":"TradingView","scale":{"type":"utc","domain":[{"year":2019,"month":1,"date":4,"hours":6,"minutes":38,"utc":true},{"year":2019,"month":1,"date":10,"hours":5,"minutes":55,"utc":true}]}},"x2":{"field":"t2"},
  "y":{"field":"p","type":"quantitative","scale":{"domain":[3704.1,4106.1],"range":[285,0.5],"nice":false,"zero":false},"axis":null},"y2":{"field":"p2"}}},
{"data":{"name":"ma"},"mark":{"type":"line","color":"#ef3b3b","strokeWidth":1.2,"clip":true},
 "encoding":{"x":{"field":"t","type":"temporal","title":"TradingView","scale":{"type":"utc","domain":[{"year":2019,"month":1,"date":4,"hours":6,"minutes":38,"utc":true},{"year":2019,"month":1,"date":10,"hours":5,"minutes":55,"utc":true}]}},
  "y":{"field":"v","type":"quantitative","scale":{"domain":[3704.1,4106.1],"range":[285,0.5],"nice":false,"zero":false},"axis":null}}},
{"data":{"name":"candles"},"mark":{"type":"bar","size":4,"strokeWidth":0.6},
 "encoding":{"x":{"field":"t","type":"temporal","title":"TradingView","scale":{"type":"utc","domain":[{"year":2019,"month":1,"date":4,"hours":6,"minutes":38,"utc":true},{"year":2019,"month":1,"date":10,"hours":5,"minutes":55,"utc":true}]}},
  "y":{"field":"o","type":"quantitative","scale":{"domain":[3704.1,4106.1],"range":[285,0.5],"nice":false,"zero":false},"axis":null},"y2":{"field":"c"},
  "color":{"condition":{"test":"datum.c >= datum.o","value":"#1d1ddb"},"value":"#e5171c"},
  "stroke":{"condition":{"test":"datum.c >= datum.o","value":"#1d1ddb"},"value":"#e5171c"}}},
{"data":{"name":"trend"},"mark":{"type":"rule","color":"#2727e6","strokeWidth":2},
 "encoding":{"x":{"field":"t","type":"temporal","title":"TradingView","scale":{"type":"utc","domain":[{"year":2019,"month":1,"date":4,"hours":6,"minutes":38,"utc":true},{"year":2019,"month":1,"date":10,"hours":5,"minutes":55,"utc":true}]}},"x2":{"field":"t2"},
  "y":{"field":"p","type":"quantitative","scale":{"domain":[3704.1,4106.1],"range":[285,0.5],"nice":false,"zero":false},"axis":null},"y2":{"field":"p2"}}},
{"data":{"name":"proj"},"mark":{"type":"rule","color":"#f2161d","strokeWidth":2.5},
 "encoding":{"x":{"field":"t","type":"temporal","title":"TradingView","scale":{"type":"utc","domain":[{"year":2019,"month":1,"date":4,"hours":6,"minutes":38,"utc":true},{"year":2019,"month":1,"date":10,"hours":5,"minutes":55,"utc":true}]}},"x2":{"field":"t2"},
  "y":{"field":"p","type":"quantitative","scale":{"domain":[3704.1,4106.1],"range":[285,0.5],"nice":false,"zero":false},"axis":null},"y2":{"field":"p2"}}},
{"data":{"values":[{"t":"2019-01-04T06:38:00Z","p":4095.5,"lab":"KRAKEN"}]},"mark":{"type":"text","align":"left","baseline":"middle","dx":0.5,"fontSize":5.5,"color":"#444444"},
 "encoding":{"x":{"field":"t","type":"temporal","title":"TradingView","scale":{"type":"utc","domain":[{"year":2019,"month":1,"date":4,"hours":6,"minutes":38,"utc":true},{"year":2019,"month":1,"date":10,"hours":5,"minutes":55,"utc":true}]}},
  "y":{"field":"p","type":"quantitative","scale":{"domain":[3704.1,4106.1],"range":[285,0.5],"nice":false,"zero":false},"axis":null},"text":{"field":"lab"}}},
{"data":{"name":"rsi"},"mark":{"type":"line","color":"#b866cc","strokeWidth":1,"clip":true},
 "encoding":{"x":{"field":"t","type":"temporal","title":"TradingView","scale":{"type":"utc","domain":[{"year":2019,"month":1,"date":4,"hours":6,"minutes":38,"utc":true},{"year":2019,"month":1,"date":10,"hours":5,"minutes":55,"utc":true}]}},
  "y":{"field":"v","type":"quantitative","scale":{"domain":[25.86,89.31],"range":[332,286],"nice":false,"zero":false},"axis":null}}},
{"data":{"name":"hist"},"mark":{"type":"rule","strokeWidth":1.4},
 "encoding":{"x":{"field":"t","type":"temporal","title":"TradingView","scale":{"type":"utc","domain":[{"year":2019,"month":1,"date":4,"hours":6,"minutes":38,"utc":true},{"year":2019,"month":1,"date":10,"hours":5,"minutes":55,"utc":true}]}},
  "y":{"field":"v","type":"quantitative","scale":{"domain":[-17.67,66.05],"range":[377,332],"nice":false,"zero":false},"axis":{"grid":true,"values":[0,40],"gridColor":"#e2e2e2","labels":false,"ticks":false,"domain":false,"title":null}},"y2":{"datum":0},
  "color":{"field":"d","type":"nominal","scale":{"domain":["g","f"],"range":["#f4558d","#f7b3ca"]},"legend":null}}},
{"data":{"name":"macd"},"mark":{"type":"line","color":"#ffa45e","strokeWidth":1.1,"clip":true,"interpolate":"monotone"},
 "encoding":{"x":{"field":"t","type":"temporal","title":"TradingView","scale":{"type":"utc","domain":[{"year":2019,"month":1,"date":4,"hours":6,"minutes":38,"utc":true},{"year":2019,"month":1,"date":10,"hours":5,"minutes":55,"utc":true}]}},
  "y":{"field":"s","type":"quantitative","scale":{"domain":[-17.67,66.05],"range":[377,332],"nice":false,"zero":false},"axis":null}}},
{"data":{"name":"macd"},"mark":{"type":"line","color":"#5db3f0","strokeWidth":1.1,"clip":true,"interpolate":"monotone"},
 "encoding":{"x":{"field":"t","type":"temporal","title":"TradingView","scale":{"type":"utc","domain":[{"year":2019,"month":1,"date":4,"hours":6,"minutes":38,"utc":true},{"year":2019,"month":1,"date":10,"hours":5,"minutes":55,"utc":true}]}},
  "y":{"field":"m","type":"quantitative","scale":{"domain":[-17.67,66.05],"range":[377,332],"nice":false,"zero":false},"axis":null}}},
{"data":{"values":[{"t":"2019-01-04T06:38:00Z","v":49.9,"lab":"lose, 9)"}]},"mark":{"type":"text","align":"left","baseline":"middle","dx":0.5,"fontSize":6,"color":"#555555"},
 "encoding":{"x":{"field":"t","type":"temporal","title":"TradingView","scale":{"type":"utc","domain":[{"year":2019,"month":1,"date":4,"hours":6,"minutes":38,"utc":true},{"year":2019,"month":1,"date":10,"hours":5,"minutes":55,"utc":true}]}},
  "y":{"field":"v","type":"quantitative","scale":{"domain":[-17.67,66.05],"range":[377,332],"nice":false,"zero":false},"axis":null},"text":{"field":"lab"}}},
{"data":{"values":[{}]},"mark":{"type":"rule","color":"#b8b8b8","strokeWidth":1},
 "encoding":{"y":{"datum":4106.1,"type":"quantitative","scale":{"domain":[3704.1,4106.1],"range":[285,0.5],"nice":false,"zero":false},"axis":null}}},
{"data":{"values":[{}]},"mark":{"type":"rule","color":"#a8a8a8","strokeWidth":1.6},
 "encoding":{"y":{"datum":3704.1,"type":"quantitative","scale":{"domain":[3704.1,4106.1],"range":[285,0.5],"nice":false,"zero":false},"axis":null}}},
{"data":{"values":[{}]},"mark":{"type":"rule","color":"#a8a8a8","strokeWidth":1.6},
 "encoding":{"y":{"datum":25.86,"type":"quantitative","scale":{"domain":[25.86,89.31],"range":[332,286],"nice":false,"zero":false},"axis":null}}},
{"data":{"values":[{}]},"mark":{"type":"rule","color":"#a8a8a8","strokeWidth":1.6},
 "encoding":{"y":{"datum":-17.67,"type":"quantitative","scale":{"domain":[-17.67,66.05],"range":[377,332],"nice":false,"zero":false},"axis":null}}}
]
}
